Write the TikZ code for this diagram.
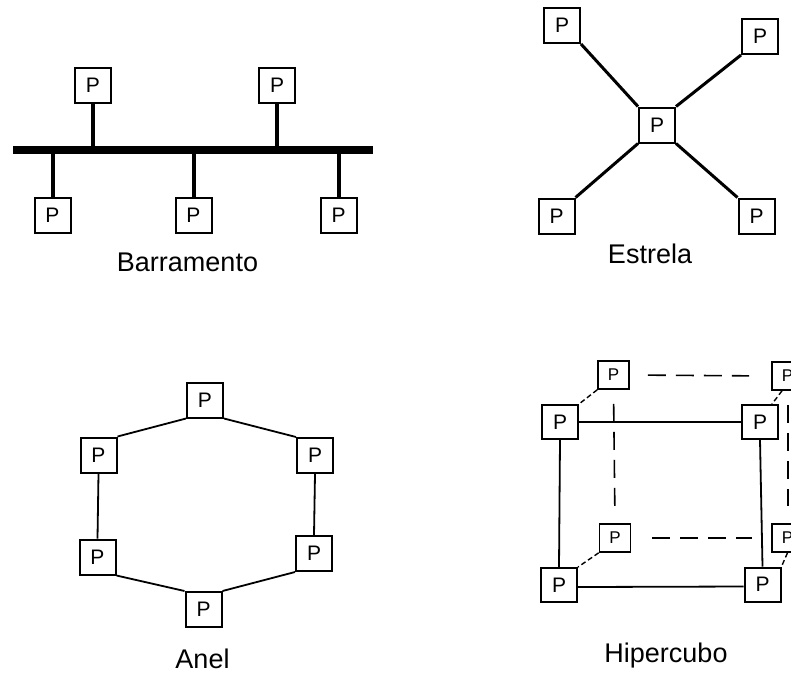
\documentclass[tikz,border=0pt]{standalone}
\usepackage{fontspec}
\setmainfont{Liberation Sans}
\usetikzlibrary{calc}
\begin{document}
\begin{tikzpicture}[x=1pt,y=-1pt,
  pbox/.style={draw,line width=2pt,minimum width=36pt,minimum height=35pt,inner sep=0pt,font=\fontsize{21}{24}\selectfont},
  sbox/.style={draw,line width=1.6pt,minimum width=31pt,minimum height=28pt,inner sep=0pt,font=\fontsize{17}{20}\selectfont},
  lbl/.style={anchor=base,inner sep=0pt,font=\fontsize{27}{32}\selectfont},
  stem/.style={line width=4pt},
  spoke/.style={line width=3pt},
  ring/.style={line width=1.8pt},
  front/.style={line width=1.8pt},
  back/.style={line width=1.6pt,dash pattern=on 18pt off 10pt},
  diag/.style={line width=1.4pt,dash pattern=on 5pt off 3pt}]
\useasboundingbox (0,0) rectangle (791,673);
% ---------- Barramento ----------
\coordinate (busL) at (13,150);
\coordinate (busR) at (373,150);
\draw[line width=8.5pt] (busL) -- (busR);
\node[pbox] (bt1) at (93,85.5) {P};
\node[pbox] (bt2) at (277,85.5) {P};
\node[pbox] (bb1) at (52.5,215.5) {P};
\node[pbox] (bb2) at (193.5,215.5) {P};
\node[pbox] (bb3) at (338.5,215.5) {P};
\draw[stem] (bt1.south) -- (bt1.south |- busL);
\draw[stem] (bt2.south) -- (bt2.south |- busL);
\draw[stem] (bb1.north) -- (bb1.north |- busL);
\draw[stem] (bb2.north) -- (bb2.north |- busL);
\draw[stem] (bb3.north) -- (bb3.north |- busL);
\node[lbl] (lb) at (187.5,271) {Barramento};
% ---------- Estrela ----------
\node[pbox] (sc) at (657,125) {P};
\node[pbox] (stl) at (562,25.5) {P};
\node[pbox] (str) at (760,36.5) {P};
\node[pbox] (sbl) at (556.5,216) {P};
\node[pbox] (sbr) at (756.5,216) {P};
\draw[spoke] (stl.south east) -- (sc.north west);
\draw[spoke] (str.south west) -- (sc.north east);
\draw[spoke] (sbl.north east) -- (sc.south west);
\draw[spoke] (sbr.north west) -- (sc.south east);
\node[lbl] (ls) at (650,263) {Estrela};
% ---------- Anel ----------
\node[pbox] (rt) at (205,400) {P};
\node[pbox] (rlu) at (98.5,455) {P};
\node[pbox] (rru) at (315,455.5) {P};
\node[pbox] (rll) at (97.5,557) {P};
\node[pbox] (rrl) at (314,553.5) {P};
\node[pbox] (rb) at (203.5,609.5) {P};
\draw[ring] (rt.south west) -- (rlu.north east);
\draw[ring] (rt.south east) -- (rru.north west);
\draw[ring] (rlu.south) -- (rll.north);
\draw[ring] (rru.south) -- (rrl.north);
\draw[ring] (rll.south east) -- (rb.north west);
\draw[ring] (rrl.south west) -- (rb.north east);
\node[lbl] (la) at (202.5,668) {Anel};
% ---------- Hipercubo ----------
\node[sbox] (bTL) at (613.5,375) {P};
\node[sbox] (bTR) at (787.5,376) {P};
\node[sbox] (bBL) at (615,538) {P};
\node[sbox] (bBR) at (787.5,538) {P};
\draw[back,shorten <=18pt,shorten >=22pt] (bTL.east) -- (bTR.west);
\draw[back,shorten <=21pt,shorten >=19pt] (bBL.east) -- (bBR.west);
\draw[back,shorten <=14pt,shorten >=17pt] (bTL.south) -- (bBL.north);
\draw[back,shorten <=14pt,shorten >=17pt] ($(bTR.south)+(0.5,0)$) -- ($(bBR.north)+(0.5,0)$);
\node[pbox,minimum height=34pt] (fTL) at (560,422) {P};
\node[pbox,minimum height=34pt] (fTR) at (760,422) {P};
\node[pbox,minimum height=34pt] (fBL) at (559,585) {P};
\node[pbox,minimum height=34pt] (fBR) at (762.5,584.5) {P};
\draw[front] (fTL.east) -- (fTR.west);
\draw[front] ($(fBL.east)+(0,2)$) -- ($(fBR.west)+(0,2)$);
\draw[front] (fTL.south) -- (fBL.north);
\draw[front] (fTR.south) -- (fBR.north);
\draw[diag] (bTL.south west) -- (fTL.north east);
\draw[diag] (bBL.south west) -- (fBL.north east);
\draw[diag] ($(bTR.south)+(-5.5,0)$) -- ($(fTR.north)+(12,0)$);
\draw[diag] (bBR.south) -- (fBR.north east);
\node[lbl] (lh) at (666,662) {Hipercubo};
\end{tikzpicture}
\end{document}
